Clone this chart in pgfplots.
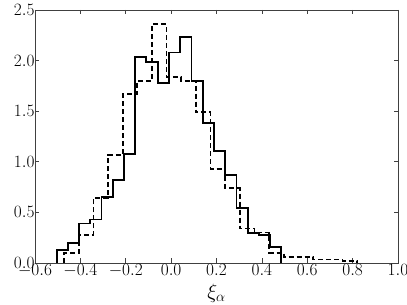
\documentclass[border=0pt]{standalone}
\usepackage{pgfplots}
\pgfplotsset{compat=1.18}

\begin{document}
\begin{tikzpicture}
\begin{axis}[
  scale only axis,
  width=363pt, height=253pt,
  xmin=-0.6, xmax=1.0,
  ymin=0, ymax=2.5,
  xtick={-0.6,-0.4,...,1.01},
  ytick={0,0.5,...,2.51},
  tick align=inside,
  major tick length=4.5pt,
  minor tick num=0,
  axis line style={black!75, line width=0.7pt},
  tick style={black!75, line width=0.7pt},
  ticklabel style={font=\fontsize{16}{18}\selectfont},
  /pgf/number format/.cd, fixed, fixed zerofill, precision=1,
  /pgfplots/.cd,
  xlabel={\fontsize{20}{24}\selectfont $\xi_\alpha$},
  xlabel style={at={(axis description cs:0.5,0)}, anchor=north,
                inner sep=0pt, yshift=-21pt},
  xticklabel style={yshift=2pt},
  yticklabel style={xshift=3pt},
  clip=false,
]
\coordinate (bl) at (rel axis cs:0,0);
\coordinate (tr) at (rel axis cs:1,1);
% solid histogram
\addplot[const plot, black, line width=1.9pt] coordinates {
  (-0.505,0) (-0.505,0.13) (-0.455,0.20) (-0.406,0.39) (-0.356,0.43)
  (-0.307,0.65) (-0.257,0.82) (-0.208,1.08) (-0.158,2.04) (-0.109,1.99)
  (-0.059,1.78) (-0.010,2.08) (0.040,2.23) (0.090,1.80) (0.139,1.38)
  (0.189,1.11) (0.238,0.87) (0.288,0.54) (0.337,0.30) (0.387,0.28)
  (0.436,0.155) (0.486,0)
};
% dashed histogram
\addplot[const plot, black, line width=1.7pt, dash pattern=on 5pt off 3pt] coordinates {
  (-0.471,0) (-0.471,0.10) (-0.407,0.28) (-0.342,0.64) (-0.278,1.07)
  (-0.213,1.67) (-0.149,1.80) (-0.084,2.36) (-0.020,1.84) (0.045,1.80)
  (0.110,1.49) (0.174,0.93) (0.239,0.74) (0.303,0.34) (0.368,0.30)
  (0.432,0.10) (0.497,0.06) (0.561,0.06) (0.626,0.035) (0.690,0.035)
  (0.755,0.02) (0.819,0)
};
\end{axis}
\pgfresetboundingbox
\useasboundingbox ([shift={(-35pt,-42pt)}]bl) rectangle ([shift={(9pt,10pt)}]tr);
\end{tikzpicture}
\end{document}
